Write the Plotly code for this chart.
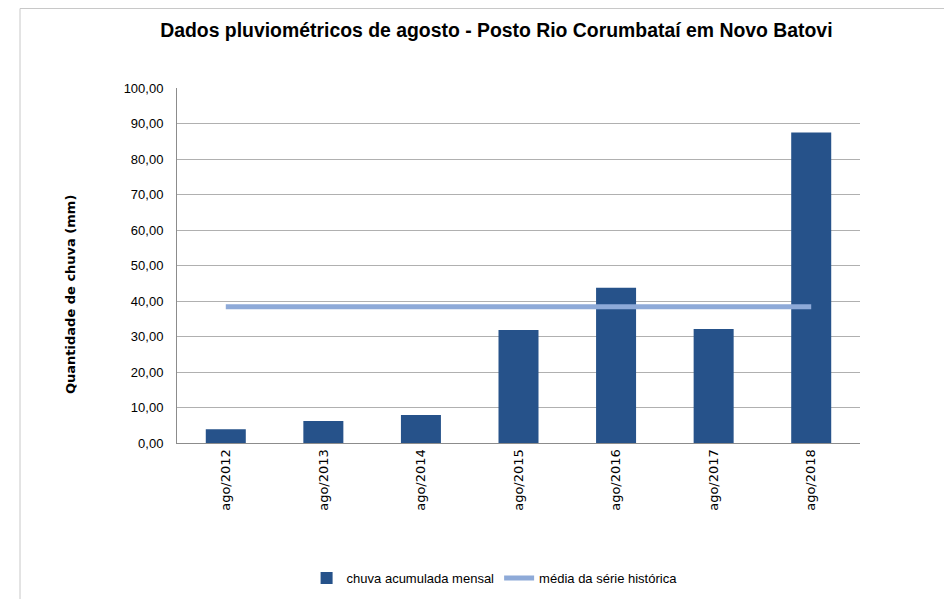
import plotly.graph_objects as go

categorias = ["ago/2012", "ago/2013", "ago/2014", "ago/2015", "ago/2016", "ago/2017", "ago/2018"]
chuva_mensal = [3.9, 6.2, 7.9, 31.8, 43.7, 32.1, 87.5]
media_historica = 38.4
y_ticks = [0, 10, 20, 30, 40, 50, 60, 70, 80, 90, 100]

titulo = "Dados pluviométricos de agosto - Posto Rio Corumbataí em Novo Batovi"
fonte = "Liberation Sans, Arial, sans-serif"

# plot area in figure pixels
L, R, T, B = 169, 852, 80, 435
W, H = 952, 599

fig = go.Figure()
fig.add_trace(go.Bar(
    x=categorias, y=chuva_mensal, name="chuva acumulada mensal",
    marker=dict(color="#26528a", line=dict(width=0)),
))
fig.add_trace(go.Scatter(
    x=categorias, y=[media_historica] * len(categorias), name="média da série histórica",
    mode="lines", line=dict(color="#8eaad8", width=5),
))

fig.update_layout(
    width=W, height=H,
    margin=dict(l=L, r=W - R, t=T, b=H - B, autoexpand=False),
    paper_bgcolor="white", plot_bgcolor="white",
    bargap=0.59,
    separators=",.",
    title=dict(text="<b>" + titulo + "</b>", x=0.513, xanchor="center", y=0.963, yanchor="middle",
               font=dict(family=fonte, size=19.4, color="#000000")),
    showlegend=True,
    legend=dict(orientation="h", x=0.465, xanchor="center", y=-(570 - B) / (B - T), yanchor="middle",
                font=dict(family=fonte, size=13, color="#000000"), itemwidth=30,
                traceorder="normal"),
    xaxis=dict(
        tickangle=-90, tickfont=dict(family="DejaVu Sans", size=13, color="#000000"),
        showline=True, linecolor="#8c8c8c", linewidth=1, showgrid=False,
        ticks="", ticklen=0,
    ),
    yaxis=dict(
        range=[0, 100], tickvals=y_ticks, tickformat=".2f",
        tickfont=dict(family=fonte, size=13, color="#000000"),
        showgrid=True, gridcolor="#b0b0b0", gridwidth=1,
        showline=True, linecolor="#8c8c8c", linewidth=1,
        ticks="", zeroline=False, ticklabelstandoff=10,
    ),
    shapes=[dict(type="rect", xref="paper", yref="paper",
                 x0=(12 - L) / (R - L), x1=1.3, y0=-0.8, y1=(B - 0.5) / (B - T),
                 line=dict(color="#c8c8c8", width=1), fillcolor="rgba(0,0,0,0)")],
    annotations=[dict(text="<b>Quantidade de chuva (mm)</b>", textangle=-90,
                      xref="paper", yref="paper", x=(62 - L) / (R - L), y=(B - 287) / (B - T),
                      xanchor="center", yanchor="middle", showarrow=False,
                      font=dict(family="DejaVu Sans", size=13, color="#000000"))],
)

fig.write_html("out.html")
